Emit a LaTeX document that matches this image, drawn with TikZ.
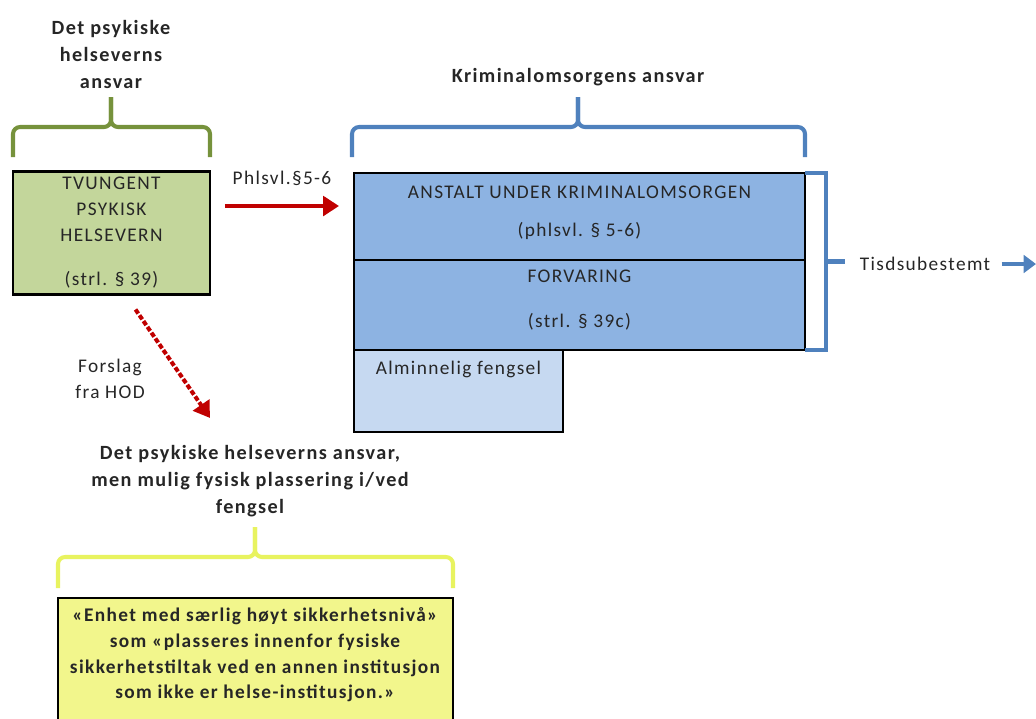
\documentclass[tikz,border=0pt]{standalone}
\usepackage{fontspec}
\setmainfont{Carlito}[LetterSpace=7]
\usetikzlibrary{positioning,calc,arrows.meta}
\definecolor{grline}{RGB}{118,146,60}
\definecolor{grfill}{RGB}{195,214,155}
\definecolor{blline}{RGB}{79,129,189}
\definecolor{blfill}{RGB}{141,179,226}
\definecolor{ltfill}{RGB}{198,217,241}
\definecolor{rdline}{RGB}{192,0,0}
\definecolor{ylline}{RGB}{232,243,95}
\definecolor{ylfill}{RGB}{242,246,140}

\begin{document}
\begin{tikzpicture}[x=0.02cm,y=-0.02cm,
  font=\fontsize{11}{14.7}\selectfont,
  box/.style={draw=black,line width=1.6pt,outer sep=0pt,inner sep=0pt,align=center,text=black!85},
  head/.style={font=\fontsize{11.5}{15.3}\selectfont\bfseries,align=center,text=black!85},
  brace/.style={line width=2.3pt,rounded corners=4pt},
  redarrow/.style={draw=rdline,line width=2.3pt,-{Triangle[length=9pt,width=11pt]}}]
\useasboundingbox (0,0) rectangle (1036,718);

\node[box,fill=grfill,minimum width=3.94cm,minimum height=2.46cm] (tvang) at (111.5,233)
  {TVUNGENT\\PSYKISK\\HELSEVERN\\[2ex](strl. § 39)};
\node[box,fill=blfill,minimum width=9.02cm,minimum height=1.74cm] (anstalt) at (579.5,216.5)
  {ANSTALT UNDER KRIMINALOMSORGEN\\[7pt](phlsvl. § 5-6)\\[-9pt]~};
\node[box,fill=blfill,minimum width=9.02cm,minimum height=1.8cm,below=0pt of anstalt] (forvaring)
  {FORVARING\\[11pt](strl. § 39c)\\[-8pt]~};
\node[box,fill=ltfill,minimum width=4.18cm,minimum height=1.64cm,anchor=north west] (almin) at (forvaring.south west) {};
\node[text=black!85,below=1mm of almin.north] {Alminnelig fengsel};

% braces
\coordinate (gtip) at (111,97);
\draw[brace,grline] (13,157) |- (111,127) -- (gtip);
\draw[brace,grline] (210,157) |- (111,127) -- (gtip);
\node[head,above=0.5mm of gtip] (gansvar) {Det psykiske\\helseverns\\ansvar};

\coordinate (btip) at (578,97);
\draw[brace,blline] (352,157) |- (578,127) -- (btip);
\draw[brace,blline] (805,157) |- (578,127) -- (btip);
\node[head,above=1mm of btip] (kansvar) {Kriminalomsorgens ansvar};

\coordinate (ytip) at (255,527);
\draw[brace,ylline] (58,588) |- (255,557) -- (ytip);
\draw[brace,ylline] (453,588) |- (255,557) -- (ytip);
\node[head] (felles) at (250,481) {Det psykiske helseverns ansvar,\\men mulig fysisk plassering i/ved\\fengsel};

\node[box,fill=ylfill,minimum width=7.9cm,minimum height=3cm,anchor=north] (gul) at (255.5,598) {};
\node[head,font=\fontsize{11}{14.6}\selectfont\bfseries] (enhet) at (255,655)
  {«Enhet med særlig høyt sikkerhetsnivå»\\som «plasseres innenfor fysiske\\sikkerhetstiltak ved en annen institusjon\\som ikke er helse-institusjon.»};

% arrows
\draw[redarrow] ($(tvang.east)+(15,-27)$) -- node[above=2.5mm,text=black!85] (phlsvl) {Phlsvl.§5-6} ($(anstalt.west)+(-15,-10.5)$);
\coordinate (hod) at (210,418);
\draw[redarrow,dash pattern=on 2.8pt off 1.2pt] ($(tvang.south)+(24,15)$) -- (hod);
\node[align=center,text=black!85] (forslag) at (110,379) {Forslag\\fra HOD};

\draw[line width=2.3pt,blline] (anstalt.north east) -- ++(21,0) |- (forvaring.south east);
\coordinate (brmid) at ($(anstalt.north east)!0.5!(forvaring.south east)+(21,0)$);
\draw[line width=2.3pt,blline] (brmid) -- ++(19,0);
\node[text=black!85] (tids) at (925,264) {Tisdsubestemt};
\coordinate (ut) at (1036,264);
\draw[line width=2.3pt,blline,-{Triangle[length=7pt,width=10pt]}] ([xshift=3pt]tids.east) -- (ut);
\end{tikzpicture}
\end{document}
